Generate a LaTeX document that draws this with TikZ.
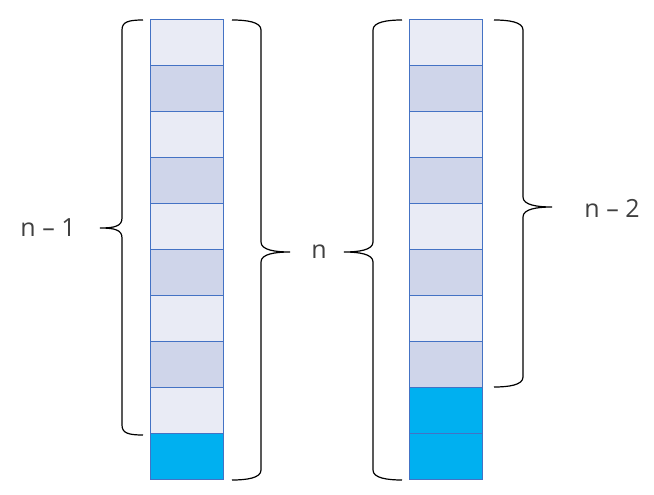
\documentclass[tikz,border=0pt]{standalone}
\usepackage{fontspec}
\setmainfont{Open Sans}
\definecolor{celllight}{HTML}{E9EBF5}
\definecolor{celldark}{HTML}{CFD5EA}
\definecolor{cellblue}{HTML}{00B0F0}
\definecolor{cellline}{HTML}{4472C4}
\definecolor{labeltext}{HTML}{404040}
\tikzset{
  cell/.style={draw=cellline, line width=0.9pt},
  bracket/.style={draw=black, line width=1.2pt},
  count/.style={text=labeltext, font=\fontsize{25}{30}\selectfont, inner sep=0pt}
}
\begin{document}
\begin{tikzpicture}[x=1pt,y=-1pt]
    \useasboundingbox (0,0) rectangle (654,495);

    % Left column: n cells, the last one taken
    \foreach \i in {0,...,9} {
        \pgfmathsetmacro{\top}{19+46*\i}
        \ifnum\i=9
            \filldraw[cell, fill=cellblue] (150,\top) rectangle (223,\top+46);
        \else
            \ifodd\i
                \filldraw[cell, fill=celldark] (150,\top) rectangle (223,\top+46);
            \else
                \filldraw[cell, fill=celllight] (150,\top) rectangle (223,\top+46);
            \fi
        \fi
    }

    % Right column: n cells, the last two taken
    \foreach \i in {0,...,9} {
        \pgfmathsetmacro{\top}{19+46*\i}
        \ifnum\i>7
            \filldraw[cell, fill=cellblue] (409,\top) rectangle (482,\top+46);
        \else
            \ifodd\i
                \filldraw[cell, fill=celldark] (409,\top) rectangle (482,\top+46);
            \else
                \filldraw[cell, fill=celllight] (409,\top) rectangle (482,\top+46);
            \fi
        \fi
    }

    % Braces
    \draw[bracket] (143,20) .. controls (128,20) and (122,22) .. (122,30) -- (122,218)
        .. controls (122,226) and (115,228) .. (100,228)
        .. controls (115,228) and (122,230) .. (122,238) -- (122,425)
        .. controls (122,433) and (128,435) .. (143,435);

    \draw[bracket] (232,20) .. controls (247,20) and (261,22) .. (261,30) -- (261,242)
        .. controls (261,250) and (275,252) .. (290,252)
        .. controls (275,252) and (261,254) .. (261,262) -- (261,470)
        .. controls (261,478) and (247,480) .. (232,480);

    \draw[bracket] (402,20) .. controls (387,20) and (373,22) .. (373,30) -- (373,242)
        .. controls (373,250) and (359,252) .. (344,252)
        .. controls (359,252) and (373,254) .. (373,262) -- (373,470)
        .. controls (373,478) and (387,480) .. (402,480);

    \draw[bracket] (494,20) .. controls (509,20) and (523,22) .. (523,30) -- (523,197)
        .. controls (523,205) and (537,207) .. (552,207)
        .. controls (537,207) and (523,209) .. (523,217) -- (523,377)
        .. controls (523,385) and (509,387) .. (494,387);

    % Labels
    \node[count] (nminusone) at (48,228) {n – 1};
    \node[count] (nall) at (319,252) {n};
    \node[count] (nminustwo) at (612,208) {n – 2};
\end{tikzpicture}
\end{document}
